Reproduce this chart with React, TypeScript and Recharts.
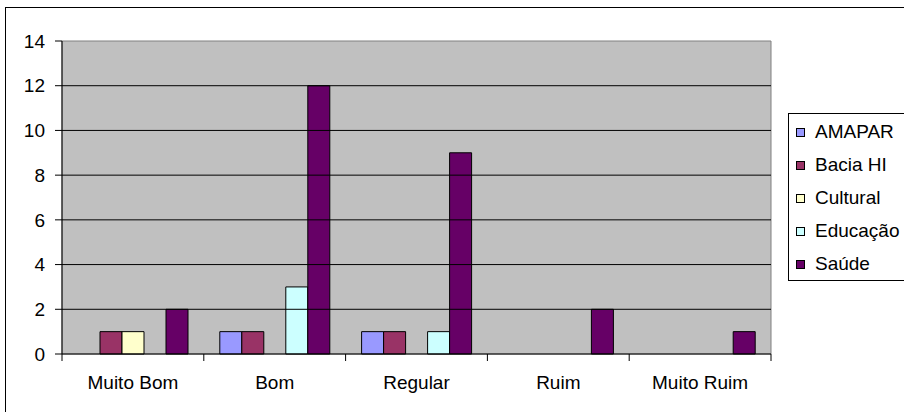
import { Bar, BarChart, ReferenceArea, ReferenceLine, XAxis, YAxis } from 'recharts';

// Survey answers per rating, one list per group (empty cells left as null).
const categories = ['Muito Bom', 'Bom', 'Regular', 'Ruim', 'Muito Ruim'];
const amapar = [null, 1, 1, null, null];
const baciaHi = [1, 1, 1, null, null];
const cultural = [1, null, null, null, null];
const educacao = [null, 3, 1, null, null];
const saude = [2, 12, 9, 2, 1];
const yTicks = [0, 2, 4, 6, 8, 10, 12, 14];

const series = [
  { key: 'amapar', name: 'AMAPAR', color: '#9999FF', values: amapar },
  { key: 'baciaHi', name: 'Bacia HI', color: '#993366', values: baciaHi },
  { key: 'cultural', name: 'Cultural', color: '#FFFFCC', values: cultural },
  { key: 'educacao', name: 'Educação', color: '#CCFFFF', values: educacao },
  { key: 'saude', name: 'Saúde', color: '#660066', values: saude },
];

const data = categories.map((name, i) => {
  const row: Record<string, string | number | null> = { name };
  series.forEach((s) => {
    row[s.key] = s.values[i];
  });
  return row;
});

// Excel-ish layout: plot box from x 62..771, y 41..354.
const W = 904;
const H = 412;
const PLOT_L = 62;
const PLOT_R = 771;
const Y_AXIS_W = 40;
const X_AXIS_H = 40;
const BAND = (PLOT_R - PLOT_L) / categories.length;
const FONT = '"Liberation Sans", Arial, sans-serif';
const FS = 19;

// Category label centred in the band, with Excel-style ticks on the band edges.
function CatTick(props: any) {
  const { x, y, payload, index } = props;
  const last = index === categories.length - 1;
  return (
    <g>
      <line x1={x - BAND / 2} y1={y} x2={x - BAND / 2} y2={y + 7} stroke="#000" />
      {last && <line x1={x + BAND / 2} y1={y} x2={x + BAND / 2} y2={y + 7} stroke="#000" />}
      <text x={x} y={y + 35} textAnchor="middle" fontSize={FS} fontFamily={FONT} fill="#000">
        {payload.value}
      </text>
    </g>
  );
}

export default function App() {
  return (
    <div
      style={{
        position: 'absolute',
        left: 0,
        top: 0,
        width: W,
        height: H,
        overflow: 'hidden',
        background: '#fff',
      }}
    >
      <div
        style={{
          position: 'absolute',
          left: 5,
          top: 7,
          width: 1000,
          height: 500,
          border: '1px solid #000',
        }}
      />
      <div style={{ position: 'absolute', left: 0, top: 0 }}>
        <BarChart
          width={W}
          height={H}
          data={data}
          margin={{ top: 41, right: W - PLOT_R, bottom: H - 354 - X_AXIS_H, left: PLOT_L - Y_AXIS_W }}
          barGap={0}
          barSize={22}
          barCategoryGap={16}
        >
          <ReferenceArea y1={0} y2={14} fill="#C0C0C0" fillOpacity={1} stroke="#808080" />
          {yTicks
            .filter((t) => t > 0 && t < 14)
            .map((t) => (
              <ReferenceLine key={t} y={t} stroke="#000" />
            ))}
          <XAxis
            dataKey="name"
            height={X_AXIS_H}
            axisLine={{ stroke: '#000' }}
            tickLine={false}
            tickSize={0}
            tickMargin={0}
            interval={0}
            tick={<CatTick />}
          />
          <YAxis
            width={Y_AXIS_W}
            domain={[0, 14]}
            ticks={yTicks}
            interval={0}
            axisLine={{ stroke: '#000' }}
            tickLine={{ stroke: '#000' }}
            tickSize={7}
            tickMargin={10}
            tick={{ fontSize: FS, fontFamily: FONT, fill: '#000' }}
          />
          {series.map((s) => (
            <Bar
              key={s.key}
              dataKey={s.key}
              name={s.name}
              fill={s.color}
              stroke="#000"
              strokeWidth={1}
              isAnimationActive={false}
            />
          ))}
        </BarChart>
      </div>
      <div
        style={{
          position: 'absolute',
          left: 788,
          top: 113,
          width: 200,
          height: 166,
          border: '1px solid #000',
          background: '#fff',
          fontFamily: FONT,
          fontSize: FS,
        }}
      >
        {series.map((s, i) => (
          <div
            key={s.key}
            style={{
              position: 'absolute',
              left: 7,
              top: 6 + i * 33,
              height: 24,
              display: 'flex',
              alignItems: 'center',
              whiteSpace: 'nowrap',
            }}
          >
            <span
              style={{
                display: 'inline-block',
                width: 7,
                height: 7,
                background: s.color,
                border: '1px solid #000',
                marginRight: 10,
              }}
            />
            {s.name}
          </div>
        ))}
      </div>
    </div>
  );
}
